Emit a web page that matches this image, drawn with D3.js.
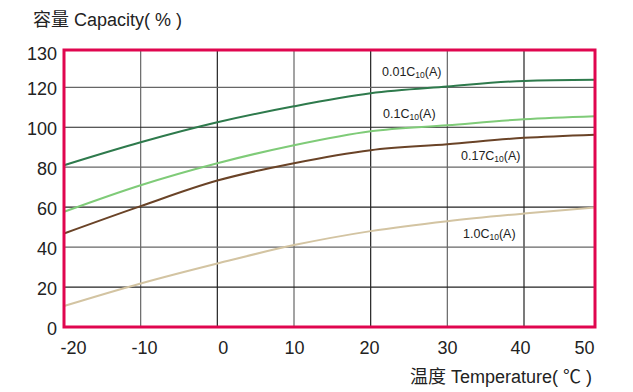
<!DOCTYPE html>
<html><head><meta charset="utf-8">
<script src="https://cdn.jsdelivr.net/npm/d3@7"></script>
<style>body{margin:0;background:#fff}text{font-family:"Liberation Sans",Arial,"Noto Sans CJK SC",sans-serif}</style>
</head><body><svg id="c" width="633" height="392"></svg>
<script>
const temps = [-20,-10,0,10,20,30,40,50];
const xTicks = [-20,-10,0,10,20,30,40,50];
const yTicks = [0,20,40,60,80,100,120,130];
const seriesNames = ["0.01C10(A)","0.1C10(A)","0.17C10(A)","1.0C10(A)"];
const cap001 = [81,92.5,102.5,110.5,117,120.2,121.7,122];
const cap01 = [57.7,71,82,91,98,101,104,105.5];
const cap017 = [46.8,60.5,73.3,82,88.5,91.5,94.7,96.3];
const cap10 = [10.5,21.8,31.8,41,48,53,56.8,59.8];
const colors = ["#2e7a4c","#7fcb78","#6a4327","#d3c4a2"];
const allSeries = [cap001,cap01,cap017,cap10];

const svg = d3.select("#c");
const x = d3.scaleLinear().domain([-20,40,50]).range([64,524,595]);
const y = d3.scaleLinear().domain([0,120,130]).range([327,87.3,50]);

// grid
const g = svg.append("g");
g.selectAll(".vg").data(xTicks.slice(1,-1)).enter().append("line")
 .attr("x1",d=>x(d)).attr("x2",d=>x(d)).attr("y1",y(130)).attr("y2",y(0))
 .attr("stroke",(d,i)=>i%2?"#222":"#666").attr("stroke-width",1.2);
g.selectAll(".hg").data(yTicks.slice(1,-1)).enter().append("line")
 .attr("x1",x(-20)).attr("x2",x(50)).attr("y1",d=>y(d)).attr("y2",d=>y(d))
 .attr("stroke",(d,i)=>i%2?"#666":"#222").attr("stroke-width",1.2);

// lines
const line = d3.line().x((d,i)=>x(temps[i])).y(d=>y(d)).curve(d3.curveMonotoneX);
svg.selectAll(".ser").data(allSeries).enter().append("path")
 .attr("d",d=>line(d)).attr("fill","none").attr("stroke",(d,i)=>colors[i]).attr("stroke-width",2);

// frame
svg.append("rect").attr("x",x(-20)).attr("y",y(130)).attr("width",x(50)-x(-20)).attr("height",y(0)-y(130))
 .attr("fill","none").attr("stroke","#e0064f").attr("stroke-width",3);

// axes
const xLabelCenters = {"-20":73,"-10":144,"0":222.7,"10":294,"20":369,"30":447,"40":520,"50":584};
const xAxis = d3.axisBottom(x).tickValues(xTicks).tickSize(0).tickPadding(0)
 .tickFormat(d=>d<0?"-"+Math.abs(d):d);
const xa = svg.append("g").attr("transform",`translate(0,354)`).call(xAxis);
xa.select(".domain").remove();
xa.selectAll("text").attr("font-size",18).attr("fill","#222").attr("dy",0)
 .attr("dx",d=>xLabelCenters[d]-x(d));
const yAxis = d3.axisLeft(y).tickValues(yTicks).tickSize(0).tickPadding(0);
const ya = svg.append("g").attr("transform",`translate(57,0)`).call(yAxis);
ya.select(".domain").remove();
ya.selectAll("text").attr("font-size",18).attr("fill","#222").attr("dy",d=>d===130?"0.55em":"0.4em");

// titles
svg.append("text").attr("x",33).attr("y",26).attr("font-size",18).attr("fill","#222").text("容量 Capacity( % )");
svg.append("text").attr("x",592).attr("y",383).attr("text-anchor","end").attr("font-size",18).attr("fill","#222").text("温度 Temperature( ℃ )");

// series labels
const labelPos = [[382,76],[383,118],[461,160],[463,238]];
seriesNames.forEach((n,i)=>{
  const m = n.match(/^(.*)C10(.*)$/);
  const t = svg.append("text").attr("x",labelPos[i][0]).attr("y",labelPos[i][1]).attr("font-size",12.5).attr("fill","#222");
  t.append("tspan").text(m[1]+"C");
  t.append("tspan").attr("font-size",8.5).attr("dy",2).text("10");
  t.append("tspan").attr("dy",-2).text(m[2]);
});
</script></body></html>
